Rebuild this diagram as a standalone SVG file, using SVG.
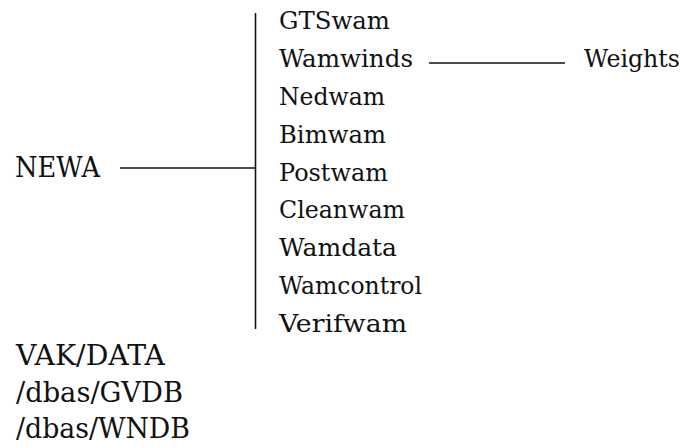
<svg xmlns="http://www.w3.org/2000/svg" width="684" height="448" viewBox="0 0 684 448">
<style>
.r{font-size:25px;}
.l{font-size:27px;}
.c{stroke:#111;stroke-width:1.6;fill:none;}
</style>
<rect width="684" height="448" fill="#fff"/>
<g id="connectors">
<line class="c" x1="255.5" y1="13" x2="255.5" y2="329"/>
<line class="c" x1="120" y1="168" x2="255.5" y2="168"/>
<line class="c" x1="429" y1="63" x2="565" y2="63"/>
</g>
<g font-family="'DejaVu Serif', 'Liberation Serif', serif" fill="#111">
<g id="NEWA"><text class="l" x="15" y="177" textLength="85" lengthAdjust="spacingAndGlyphs">NEWA</text></g>
<g id="GTSwam"><text class="r" x="279" y="29" textLength="111" lengthAdjust="spacingAndGlyphs">GTSwam</text></g>
<g id="Wamwinds"><text class="r" x="279" y="67" textLength="134" lengthAdjust="spacingAndGlyphs">Wamwinds</text></g>
<g id="Nedwam"><text class="r" x="279" y="105" textLength="106" lengthAdjust="spacingAndGlyphs">Nedwam</text></g>
<g id="Bimwam"><text class="r" x="279" y="142.5" textLength="107" lengthAdjust="spacingAndGlyphs">Bimwam</text></g>
<g id="Postwam"><text class="r" x="279" y="180.5" textLength="109" lengthAdjust="spacingAndGlyphs">Postwam</text></g>
<g id="Cleanwam"><text class="r" x="279" y="218" textLength="126" lengthAdjust="spacingAndGlyphs">Cleanwam</text></g>
<g id="Wamdata"><text class="r" x="279" y="256" textLength="118" lengthAdjust="spacingAndGlyphs">Wamdata</text></g>
<g id="Wamcontrol"><text class="r" x="279" y="293.5" textLength="143" lengthAdjust="spacingAndGlyphs">Wamcontrol</text></g>
<g id="Verifwam"><text class="r" x="279" y="331.5" textLength="128" lengthAdjust="spacingAndGlyphs">Verifwam</text></g>
<g id="Weights"><text class="r" x="584" y="67" textLength="96" lengthAdjust="spacingAndGlyphs">Weights</text></g>
<g id="VAK_DATA"><text class="l" x="16" y="365" textLength="149" lengthAdjust="spacingAndGlyphs">VAK/DATA</text></g>
<g id="dbas_GVDB"><text class="l" x="16" y="402" textLength="167" lengthAdjust="spacingAndGlyphs">/dbas/GVDB</text></g>
<g id="dbas_WNDB"><text class="l" x="16" y="438" textLength="174" lengthAdjust="spacingAndGlyphs">/dbas/WNDB</text></g>
</g>
</svg>
